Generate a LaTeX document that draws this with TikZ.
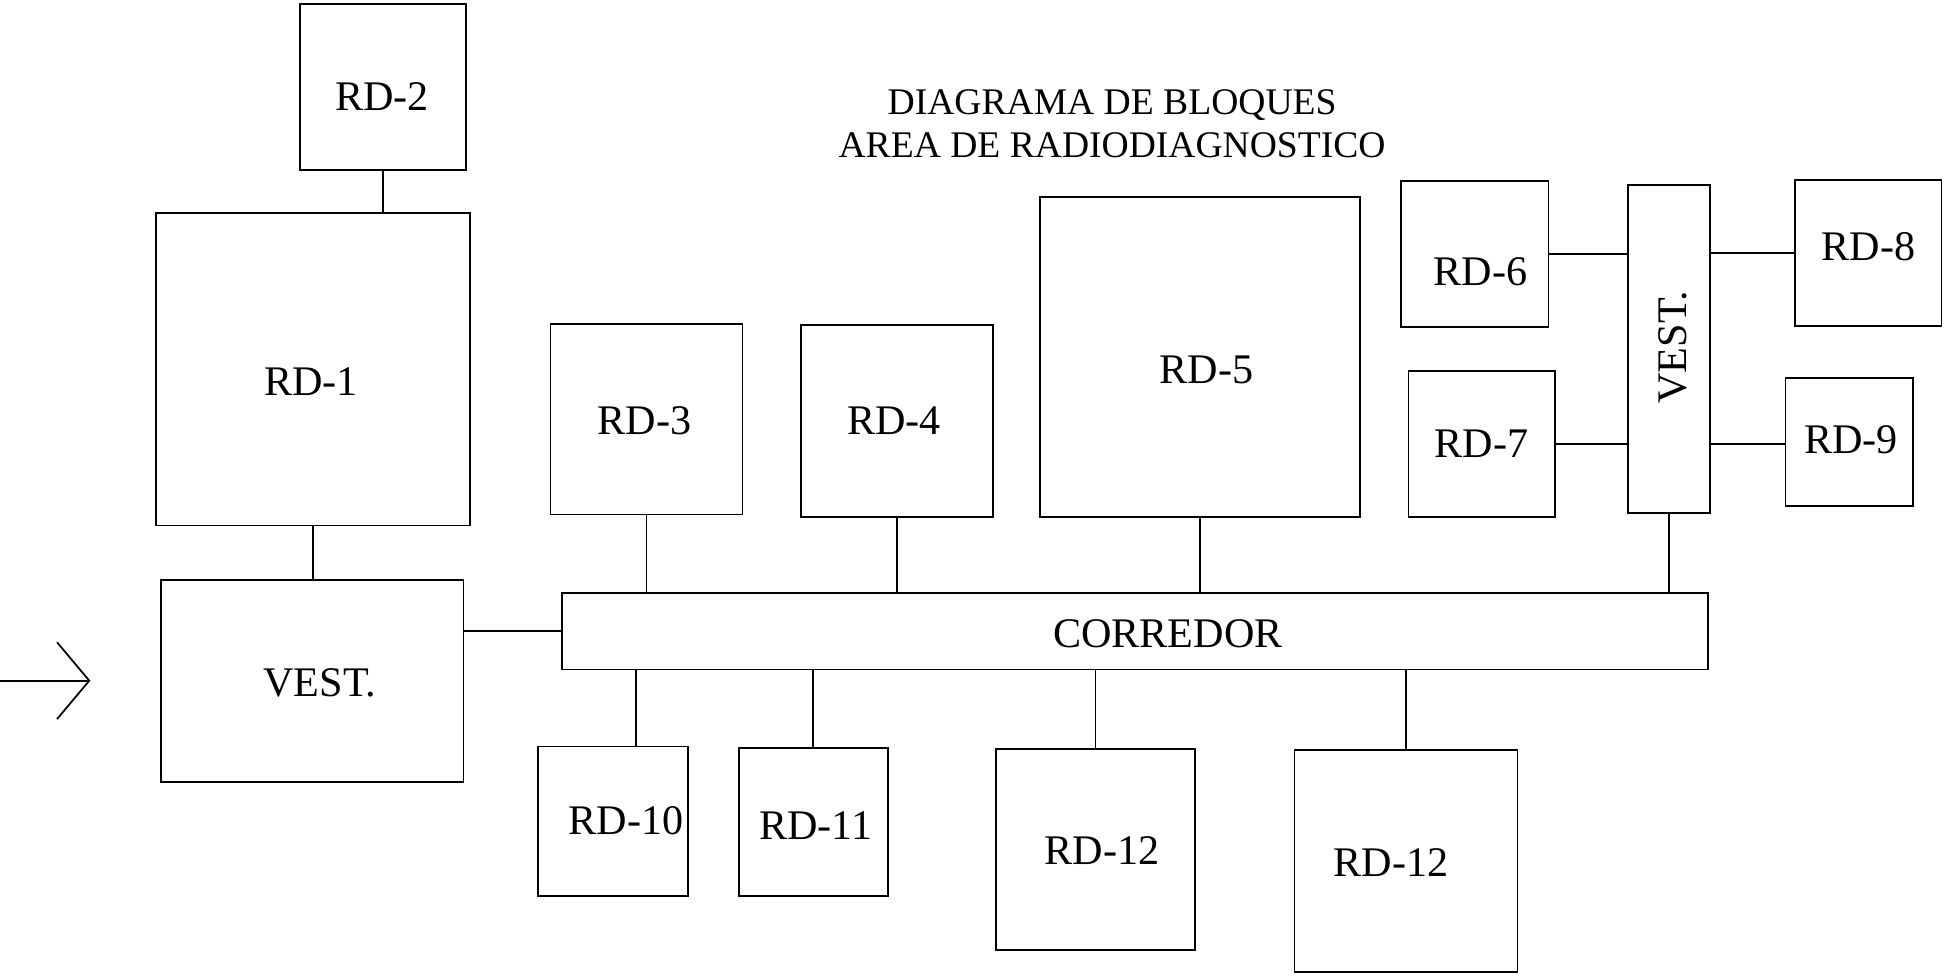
\documentclass[tikz,border=0pt]{standalone}
\usepackage{fontspec}
\setmainfont{Liberation Serif}
\usepackage{tikz}
\usetikzlibrary{positioning,calc}
\newcommand{\pxu}{0.12398mm}

\begin{document}
\begin{tikzpicture}[x=0.012398cm,y=-0.012398cm,line width=0.5pt,
  box/.style={draw,rectangle,inner sep=0pt},
  lbl/.style={inner sep=0pt,font=\fontsize{12}{14}\selectfont},
  link/.style={line width=0.5pt}]
  \useasboundingbox (0,0) rectangle (1568,787);
  % title
  \node[inner sep=0pt,align=center,font=\fontsize{10.7}{12.2}\selectfont](title) at (897,100)
    {DIAGRAMA DE BLOQUES\\AREA DE RADIODIAGNOSTICO};
  % rooms
  \node[box,minimum width=134*\pxu,minimum height=134*\pxu](rd2) at (309,70){};
  \node[box,minimum width=253*\pxu,minimum height=252*\pxu](rd1) at (252.5,298){};
  \node[box,minimum width=244*\pxu,minimum height=163*\pxu](vestA) at (252,549.5){};
  \node[box,minimum width=925*\pxu,minimum height=62*\pxu](corr) at (915.5,509){};
  \node[box,minimum width=155*\pxu,minimum height=154*\pxu](rd3) at (521.5,338){};
  \node[box,minimum width=155*\pxu,minimum height=155*\pxu](rd4) at (723.5,339.5){};
  \node[box,minimum width=258*\pxu,minimum height=258*\pxu](rd5) at (968,288){};
  \node[box,minimum width=119*\pxu,minimum height=118*\pxu](rd6) at (1189.5,205){};
  \node[box,minimum width=118*\pxu,minimum height=118*\pxu](rd7) at (1195,358){};
  \node[box,minimum width=66*\pxu,minimum height=265*\pxu](vestB) at (1346,281.5){};
  \node[box,minimum width=118*\pxu,minimum height=118*\pxu](rd8) at (1507,204){};
  \node[box,minimum width=103*\pxu,minimum height=103*\pxu](rd9) at (1491.5,356.5){};
  \node[box,minimum width=121*\pxu,minimum height=121*\pxu](rd10) at (494.5,662.5){};
  \node[box,minimum width=120*\pxu,minimum height=120*\pxu](rd11) at (656,663){};
  \node[box,minimum width=161*\pxu,minimum height=162*\pxu](rd12a) at (883.5,685){};
  \node[box,minimum width=180*\pxu,minimum height=179*\pxu](rd12b) at (1134,694.5){};
  % labels
  \node[lbl](t2) at (308,78){RD-2};
  \node[lbl](t1) at (251,308){RD-1};
  \node[lbl](tvA) at (258,551){VEST.};
  \node[lbl](tc) at (942,511){CORREDOR};
  \node[lbl](t3) at (520,339){RD-3};
  \node[lbl](t4) at (721,339){RD-4};
  \node[lbl](t5) at (973,298){RD-5};
  \node[lbl](t6) at (1194,219){RD-6};
  \node[lbl](t7) at (1195,358){RD-7};
  \node[lbl,rotate=90](tvB) at (1349,280){VEST.};
  \node[lbl](t8) at (1507,199){RD-8};
  \node[lbl](t9) at (1493,355){RD-9};
  \node[lbl](t10) at (505,662){RD-10};
  \node[lbl](t11) at (658,666){RD-11};
  \node[lbl](t12a) at (889,686){RD-12};
  \node[lbl](t12b) at (1122,696){RD-12};
  % links
  \draw[link](rd2.south)--(rd2.south|-rd1.north);
  \draw[link](rd1.south)--(rd1.south|-vestA.north);
  \draw[link](corr.west)--(corr.west-|vestA.east);
  \foreach \r in {rd3,rd4,rd5,vestB}
    \draw[link](\r.south)--(\r.south|-corr.north);
  \draw[link](corr.south-|513,0)--(rd10.north-|513,0);
  \foreach \r in {rd11,rd12a,rd12b}
    \draw[link](\r.north)--(\r.north|-corr.south);
  \draw[link](rd6.east)--(rd6.east-|vestB.west);
  \draw[link](rd7.east)--(rd7.east-|vestB.west);
  \draw[link](vestB.east|-rd8.west)--(rd8.west);
  \draw[link](vestB.east|-0,358)--(rd9.west|-0,358);
  % entrance
  \coordinate(door) at (0,549);
  \coordinate(doortip) at (72,549);
  \draw[link](door)--(doortip);
  \draw[link](doortip)++(-26,-31)--(doortip)--++(-26,31);
\end{tikzpicture}
\end{document}
